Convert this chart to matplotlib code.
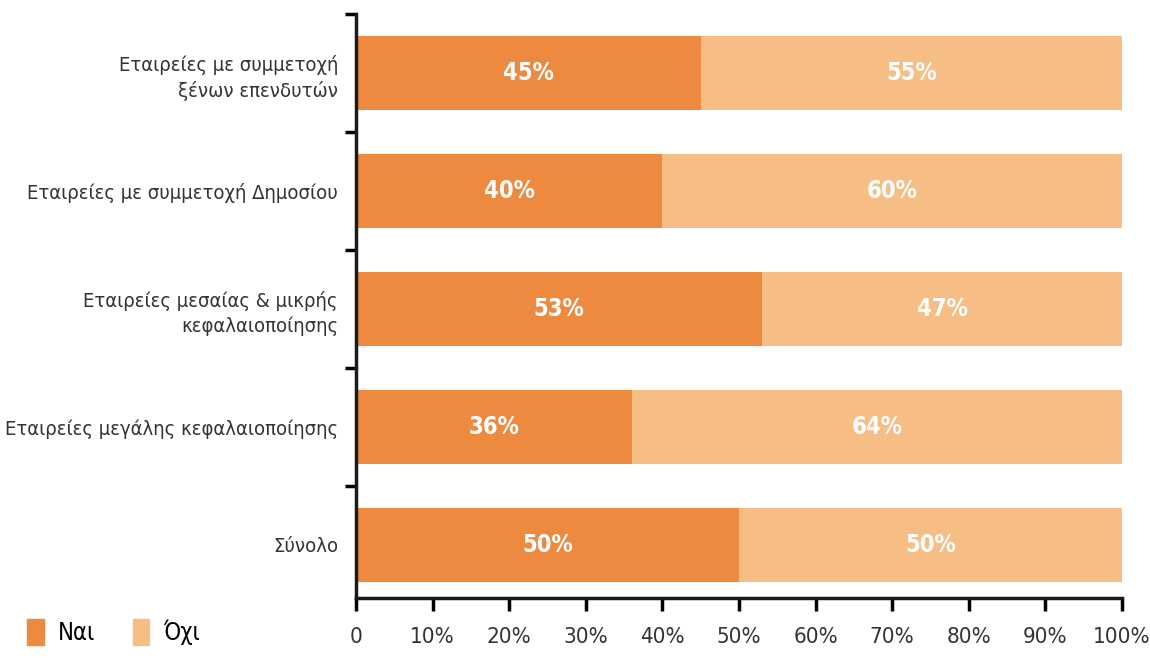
import matplotlib.pyplot as plt
from matplotlib.patches import Patch
from matplotlib.ticker import FixedLocator

plt.rcParams['font.family'] = ['DejaVu Sans']
plt.rcParams['font.stretch'] = 'condensed'

categories = [
    'Εταιρείες με συμμετοχή\nξένων επενδυτών',
    'Εταιρείες με συμμετοχή Δημοσίου',
    'Εταιρείες μεσαίας & μικρής\nκεφαλαιοποίησης',
    'Εταιρείες μεγάλης κεφαλαιοποίησης',
    'Σύνολο',
]
yes = [45, 40, 53, 36, 50]
no = [55, 60, 47, 64, 50]
xticks = [0, 10, 20, 30, 40, 50, 60, 70, 80, 90, 100]
xtick_labels = ['0'] + [f'{v}%' for v in xticks[1:]]

c_yes = '#EE8A40'
c_no = '#F6BD84'

fig = plt.figure(figsize=(11.5, 6.58), dpi=100)
ax = fig.add_axes([0.3096, 0.0912, 0.666, 0.8875])

pos = list(range(len(categories)))
ax.barh(pos, yes, height=0.63, color=c_yes)
ax.barh(pos, no, left=yes, height=0.63, color=c_no)

# percentage labels in the middle of each segment
for i in pos:
    ax.text(yes[i] / 2, i, f'{yes[i]}%', ha='center', va='center',
            color='white', fontsize=17, fontweight='bold')
    ax.text(yes[i] + no[i] / 2, i, f'{no[i]}%', ha='center', va='center',
            color='white', fontsize=17, fontweight='bold')

ax.set_xlim(0, 100)
ax.set_ylim(4.45, -0.5)

ax.set_xticks(xticks)
ax.set_xticklabels(xtick_labels, fontsize=16, color='#333333')
ax.tick_params(axis='x', direction='out', length=9, width=2.5, pad=12)

ax.set_yticks(pos)
ax.set_yticklabels(categories, fontsize=14.5, color='#333333', linespacing=1.35)
ax.tick_params(axis='y', which='major', length=0, pad=13)
ax.yaxis.set_minor_locator(FixedLocator([-0.5, 0.5, 1.5, 2.5, 3.5]))
ax.tick_params(axis='y', which='minor', direction='out', length=8, width=2.5)

for side in ['top', 'right']:
    ax.spines[side].set_visible(False)
for side in ['left', 'bottom']:
    ax.spines[side].set_linewidth(2.5)
    ax.spines[side].set_color('#1a1a1a')

handles = [Patch(color=c_yes, label='Ναι'), Patch(color=c_no, label='Όχι')]
fig.legend(handles=handles, loc='lower left', bbox_to_anchor=(0.005, -0.012),
           ncol=2, frameon=False, fontsize=17, handlelength=0.7,
           handleheight=1.3, handletextpad=0.6, columnspacing=1.6)

fig.savefig('out.png', dpi=100, facecolor='white')
